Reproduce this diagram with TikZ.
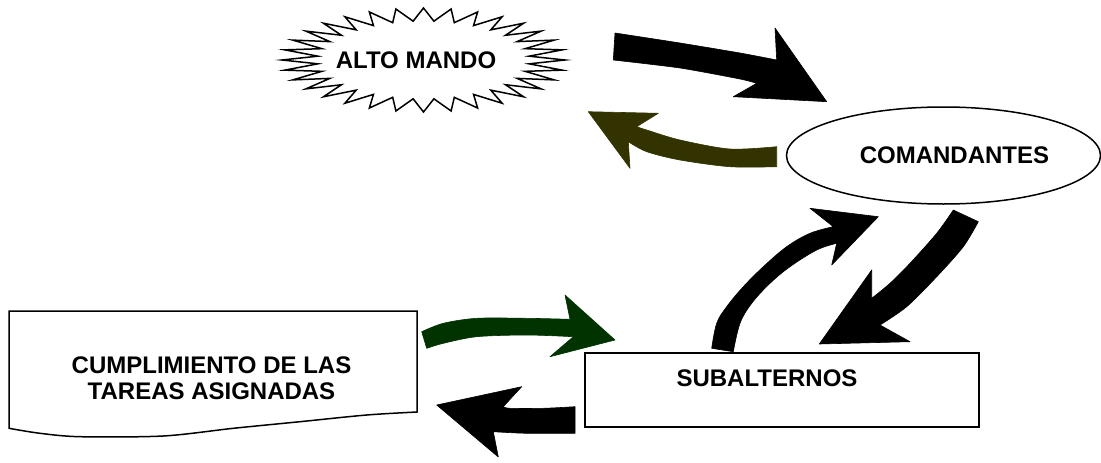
\documentclass[tikz,border=0pt]{standalone}
\usepackage{fontspec}
\setmainfont{Liberation Sans}
\usetikzlibrary{shapes.geometric}
\definecolor{olivearrow}{HTML}{333300}
\definecolor{greenarrow}{HTML}{003300}
\tikzset{
  outline/.style={draw=black, line width=1.5pt},
  lbl/.style={font=\fontsize{24}{26}\selectfont\bfseries, inner sep=0pt, align=center},
  blockarrow/.style={line width=0.6pt, line join=round},
}
\begin{document}
\begin{tikzpicture}[x=1pt,y=-1pt]
\useasboundingbox (0,0) rectangle (1101,463);
% ALTO MANDO star (32 points)
\draw[outline, line join=miter] plot[samples at={0,...,63}, variable=\k]
  ({423.5+141.5*ifthenelse(mod(\k,2)==0,1,0.75)*cos(\k*5.625-90)},
   {60+52*ifthenelse(mod(\k,2)==0,1,0.75)*sin(\k*5.625-90)}) -- cycle;
\node[lbl] (alto) at (416,60) {ALTO MANDO};
% COMANDANTES ellipse
\node[outline, ellipse, minimum width=314pt, minimum height=97pt, inner sep=0pt, font=\fontsize{24}{26}\selectfont\bfseries]
  (com) at (943.5,155.5) {\hspace*{22pt}COMANDANTES};
% SUBALTERNOS rectangle
\node[outline, rectangle, minimum width=394pt, minimum height=74pt, inner sep=0pt] (sub) at (782,390) {};
\node[lbl] (subtxt) at ([xshift=-15pt,yshift=12pt]sub.center) {SUBALTERNOS};
% CUMPLIMIENTO document shape
\draw[outline, line join=miter] (9,311) -- (417,311) -- (417,412)
  -- plot[smooth, tension=0.5] coordinates {(417,412) (366.7,415) (300,421.7) (233.3,428.3) (163.3,436) (80,436.7) (40,433.3) (9,428.3)}
  -- cycle;
\node[lbl] (cump) at (211.5,378.3) {CUMPLIMIENTO DE LAS\\TAREAS ASIGNADAS};
% Arrow A: ALTO MANDO -> COMANDANTES (black)
\filldraw[blockarrow, black]
  plot[smooth, tension=0.4] coordinates {(615,33) (680,43) (740,53) (776.7,60)}
  -- (775,28) -- (826.7,101.7) -- (733.3,96.7) -- (756.7,83.3)
  -- plot[smooth, tension=0.4] coordinates {(756.7,83.3) (740,79) (680,68) (613.3,60)} -- cycle;
% Arrow B: COMANDANTES -> ALTO MANDO (olive)
\filldraw[blockarrow, olivearrow]
  plot[smooth, tension=0.5] coordinates {(776.7,146.7) (730,149) (680,140) (646.7,130) (636.7,126.7)}
  -- (658.3,113.3) -- (588.3,111.7) -- (630,168.3) -- (628.3,141.7)
  -- plot[smooth, tension=0.5] coordinates {(628.3,141.7) (646.7,151.7) (680,160) (730,166.7) (776.7,166.7)} -- cycle;
% Arrow C: CUMPLIMIENTO -> SUBALTERNOS (green)
\filldraw[blockarrow, greenarrow]
  plot[smooth, tension=0.5] coordinates {(421.7,331.7) (443.3,323.3) (476.7,318.3) (526.7,318.3) (570,319.3)}
  -- (565,295) -- (615,340) -- (550,356.7) -- (573.3,336.7)
  -- plot[smooth, tension=0.5] coordinates {(573.3,336.7) (526.7,335) (476.7,336.7) (443.3,343.3) (426.7,348.3)} -- cycle;
% Arrow D: SUBALTERNOS -> CUMPLIMIENTO (black)
\filldraw[blockarrow, black]
  plot[smooth, tension=0.5] coordinates {(575,406.7) (543.3,408.3) (510,408.3) (503.3,406.7)}
  -- (521.7,386.7) -- (436.7,405) -- (498.3,457) -- (493.3,431.7)
  -- plot[smooth, tension=0.5] coordinates {(493.3,431.7) (526.7,433.3) (575,433.3)} -- cycle;
% Arrow E: SUBALTERNOS -> COMANDANTES (black, curved)
\filldraw[blockarrow, black]
  plot[smooth, tension=0.6] coordinates {(711.7,348.3) (716.7,323.3) (726.7,306.7) (743.3,286.7) (763.3,266.7) (786.7,246.7) (810,233.3) (833.3,226.7)}
  -- (810,208.3) -- (878.3,216.7) -- (831.7,265) -- (836.7,243.3)
  -- plot[smooth, tension=0.6] coordinates {(836.7,243.3) (816.7,250) (790,266.7) (770,283.3) (751.7,303.3) (740,323.3) (733.3,351.7)} -- cycle;
% Arrow F: COMANDANTES -> SUBALTERNOS (black)
\filldraw[blockarrow, black]
  plot[smooth, tension=0.5] coordinates {(953.3,210) (936.7,233.3) (910,263.3) (890,283.3) (871.7,298.3)}
  -- (871.7,270) -- (819.3,344) -- (910,341.7) -- (880,325)
  -- plot[smooth, tension=0.5] coordinates {(880,325) (906.7,306.7) (936.7,276.7) (963.3,246.7) (978.3,221.7)} -- cycle;
\end{tikzpicture}
\end{document}
